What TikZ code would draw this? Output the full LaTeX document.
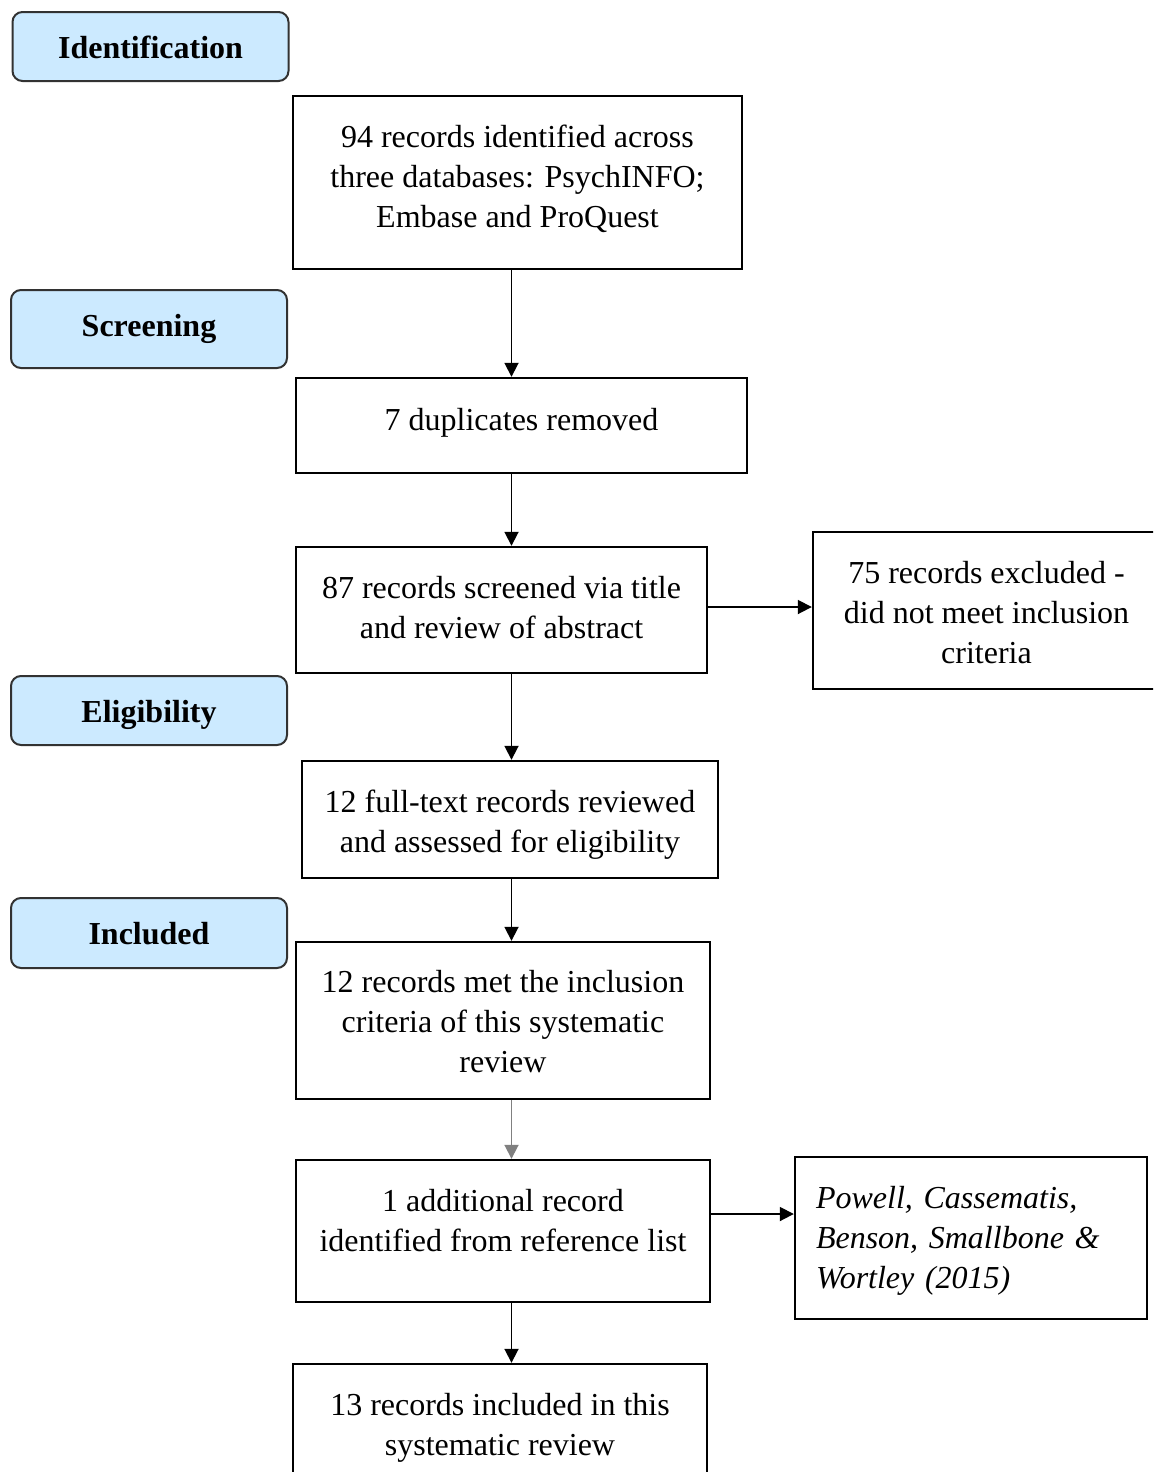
\documentclass[tikz,border=0pt]{standalone}
\usepackage{fontspec}
\setmainfont{Liberation Serif}
\usetikzlibrary{arrows.meta}
\definecolor{stagefill}{RGB}{204,234,255}
\definecolor{stageline}{RGB}{50,50,50}
\newcommand{\mlc}[2]{\raisebox{#1}[\height][\depth]{\begin{tabular}{@{}c@{}}#2\end{tabular}}}
\newcommand{\mll}[2]{\raisebox{#1}[\height][\depth]{\begin{tabular}{@{}l@{}}#2\end{tabular}}}
\begin{document}
\begin{tikzpicture}[x=0.5pt,y=-0.5pt,
  txt/.style={font=\fontsize{16pt}{20pt}\selectfont},
  stage/.style={draw=stageline, line width=1pt, fill=stagefill, rounded corners=5pt, minimum width=138pt, inner sep=0pt, font=\fontsize{16pt}{20pt}\selectfont\bfseries},
  box/.style={txt, draw=black, line width=1.2pt, inner sep=0pt},
  arr/.style={draw=black, line width=0.9pt, -{Triangle[length=7pt,width=7pt]}}
]
\clip (0,0) rectangle (1153,1472);
\fill[white] (0,0) rectangle (1153,1472);

% stage labels
\node[stage, minimum height=34.5pt] (ident) at (150.5,46.5) {\mlc{-1.75pt}{Identification}};
\node[stage, minimum height=39pt] (screen) at (149,329) {\mlc{0.25pt}{Screening}};
\node[stage, minimum height=34.5pt] (elig) at (149,710.5) {\mlc{-2pt}{Eligibility}};
\node[stage, minimum height=35pt] (incl) at (149,933) {\mlc{-1.5pt}{Included}};

% flow boxes
\node[box, minimum width=224.5pt, minimum height=86.5pt] (b1) at (517.5,182.5)
  {\mlc{1.5pt}{94 records identified across\\three databases: PsychINFO;\\Embase and ProQuest}};
\node[box, minimum width=225.5pt, minimum height=47.5pt] (b2) at (521.5,425.5)
  {\mlc{1.75pt}{7 duplicates removed}};
\node[box, minimum width=205.5pt, minimum height=63pt] (b3) at (501.5,610)
  {\mlc{-0.25pt}{87 records screened via title\\and review of abstract}};
\node[box, minimum width=173.5pt, minimum height=78.5pt] (b4) at (986.5,610.5)
  {\mlc{-2.5pt}{75 records excluded -\\did not meet inclusion\\criteria}};
\node[box, minimum width=208pt, minimum height=58.5pt] (b5) at (510,819.5)
  {\mlc{-2.5pt}{12 full-text records reviewed\\and assessed for eligibility}};
\node[box, minimum width=207pt, minimum height=78.5pt] (b6) at (503,1020.5)
  {\mlc{-2pt}{12 records met the inclusion\\criteria of this systematic\\review}};
\node[box, minimum width=207pt, minimum height=71pt] (b7) at (503,1231)
  {\mlc{3.75pt}{1 additional record\\identified from reference list}};
\node[box, minimum width=176pt, minimum height=81pt, text width=155pt] (b8) at (971,1238)
  {\mll{-1pt}{\itshape Powell, Cassematis,\\\itshape Benson, Smallbone \&\\\itshape Wortley (2015)}};
\node[box, minimum width=207pt, minimum height=60pt] (b9) at (500,1424)
  {\mlc{-1.5pt}{13 records included in this\\systematic review}};

% connectors
\coordinate (sp) at (511.5,0);
\draw[arr] (b1.south -| sp) -- (b2.north -| sp);
\draw[arr] (b2.south -| sp) -- (b3.north -| sp);
\draw[arr] (b3.south -| sp) -- (b5.north -| sp);
\draw[arr] (b5.south -| sp) -- (b6.north -| sp);
\draw[arr, draw=gray] (b6.south -| sp) -- (b7.north -| sp);
\draw[arr] (b7.south -| sp) -- (b9.north -| sp);
\draw[arr] ([yshift=1.5pt]b3.east) -- ([yshift=1.5pt]b3.east -| b4.west);
\draw[arr] ([yshift=8.5pt]b7.east) -- ([yshift=8.5pt]b7.east -| b8.west);
\end{tikzpicture}
\end{document}
